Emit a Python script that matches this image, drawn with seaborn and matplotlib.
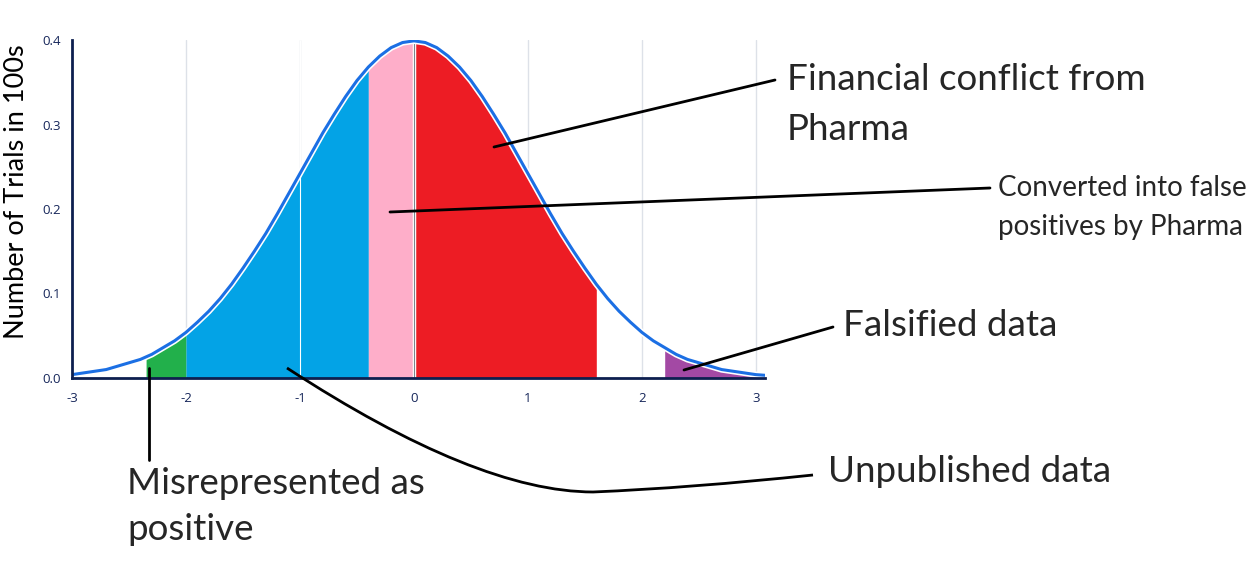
import numpy as np
import matplotlib
matplotlib.use("Agg")
import matplotlib.pyplot as plt
from matplotlib.path import Path
from matplotlib.patches import PathPatch
import seaborn as sns

# curve, every 0.1 from -3 to 3.1
z_grid = np.round(np.arange(-3.0, 3.15, 0.1), 2)
trials = [0.004, 0.006, 0.008, 0.010, 0.014, 0.018, 0.022, 0.028, 0.036, 0.044,
          0.054, 0.066, 0.079, 0.094, 0.111, 0.130, 0.150, 0.171, 0.194, 0.218,
          0.242, 0.266, 0.290, 0.312, 0.333, 0.352, 0.368, 0.381, 0.391, 0.397,
          0.399, 0.397, 0.391, 0.381, 0.368, 0.352, 0.333, 0.312, 0.290, 0.266,
          0.242, 0.218, 0.194, 0.171, 0.150, 0.130, 0.111, 0.094, 0.079, 0.066,
          0.054, 0.044, 0.036, 0.028, 0.022, 0.018, 0.014, 0.010, 0.008, 0.006,
          0.004, 0.003]
# one extra point where the green band starts
extra_z = [-2.35]
extra_trials = [0.025]

x_ticks = [-3, -2, -1, 0, 1, 2, 3]
y_ticks = [0.0, 0.1, 0.2, 0.3, 0.4]

bands = [(-2.35, -2.0, "#22b04b"),
         (-2.0, -0.4, "#03a3e6"),
         (-0.4, 0.0, "#feaec9"),
         (0.0, 1.6, "#ed1c24"),
         (2.2, 3.0, "#a349a4")]

W, H = 1257, 576

df_x = np.concatenate([z_grid, extra_z])
df_y = np.concatenate([trials, extra_trials])
order = np.argsort(df_x)
df_x, df_y = df_x[order], df_y[order]

sns.set_theme(style="white")
plt.rcParams["font.family"] = ["Lato", "DejaVu Sans"]

fig = plt.figure(figsize=(W / 100, H / 100), dpi=100)
ax = fig.add_axes([72 / W, 1 - 378 / H, 693 / W, 338 / H])

for t in x_ticks[1:]:
    ax.axvline(t, color="#dde1e8", lw=1, zorder=0)

for a, b, c in bands:
    m = (df_x >= a - 1e-9) & (df_x <= b + 1e-9)
    ax.fill_between(df_x, 0, df_y, where=m, color=c, lw=0, zorder=1)

ax.axvline(-1, color="white", lw=0.8, zorder=2)
ax.plot([0, 0], [0, 0.397], color="white", lw=2.5, zorder=2)
ax.plot([0, 0], [0, 0.397], color="#7d828c", lw=0.8, zorder=2)

ax.plot(df_x, df_y, color="white", lw=4.5, zorder=3, solid_capstyle="butt")
sns.lineplot(x=df_x, y=df_y, ax=ax, color="#1b6fe4", lw=2.2, zorder=4)

ax.set_xlim(-3, 3.08)
ax.set_ylim(0, 0.4)
ax.set_xticks(x_ticks)
ax.set_yticks(y_ticks)
ax.set_xticklabels([str(t) for t in x_ticks])
ax.set_yticklabels([f"{t:.1f}" for t in y_ticks])
ax.tick_params(length=0, labelsize=9.5, colors="#16265a")
ax.tick_params(axis="x", pad=10)
ax.tick_params(axis="y", pad=8)
for lab in ax.get_xticklabels() + ax.get_yticklabels():
    lab.set_family("Open Sans")
sns.despine(ax=ax)
for s in ["left", "bottom"]:
    ax.spines[s].set_color("#0d1f4f")
    ax.spines[s].set_linewidth(2)
    ax.spines[s].set_zorder(5)

ax.set_ylabel("Number of Trials in 100s", fontsize=19.5, color="black")
ax.yaxis.set_label_coords(-0.062, 0.55)


def px(x, y):
    return (x / W, 1 - y / H)


def seg(x0, y0, x1, y1):
    a, b = px(x0, y0), px(x1, y1)
    fig.add_artist(plt.Line2D([a[0], b[0]], [a[1], b[1]], transform=fig.transFigure,
                              color="black", lw=2, zorder=10))


seg(494, 147, 775, 80)
seg(390, 212, 990, 188)
seg(684, 370, 833, 327)
seg(149, 368, 149, 460)

verts = [px(287, 368), px(477, 492), px(593, 492), px(690, 488), px(813, 475)]
codes = [Path.MOVETO, Path.CURVE3, Path.CURVE3, Path.CURVE3, Path.CURVE3]
fig.add_artist(PathPatch(Path(verts, codes), transform=fig.transFigure, fill=False,
                         lw=2, color="black", zorder=10))

fs = 26.5
fig.text(*px(787, 80), "Financial conflict from", fontsize=fs, va="center")
fig.text(*px(787, 130), "Pharma", fontsize=fs, va="center")
fig.text(*px(998, 188), "Converted into false", fontsize=20, va="center")
fig.text(*px(998, 227), "positives by Pharma", fontsize=20, va="center")
fig.text(*px(843, 325), "Falsified data", fontsize=fs, va="center")
fig.text(*px(828, 472), "Unpublished data", fontsize=fs, va="center")
fig.text(*px(127, 483), "Misrepresented as", fontsize=fs, va="center")
fig.text(*px(127, 530), "positive", fontsize=fs, va="center")

fig.savefig("out.png", dpi=100)
